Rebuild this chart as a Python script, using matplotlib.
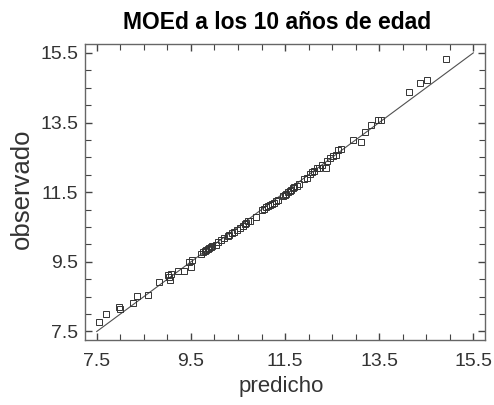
import numpy as np
import matplotlib
matplotlib.use("Agg")
import matplotlib.pyplot as plt
from matplotlib.ticker import MultipleLocator

# valores (predicho vs observado)
predicho = [7.55, 7.69, 7.97, 7.99, 8.28, 8.36, 8.59, 8.83, 9.02, 9.04,
            9.06, 9.08, 9.22, 9.36, 9.46, 9.50, 9.52, 9.72, 9.76, 9.80,
            9.83, 9.86, 9.88, 9.92, 9.95, 10.03, 10.08, 10.15, 10.20, 10.28,
            10.32, 10.38, 10.42, 10.47, 10.55, 10.60, 10.64, 10.68, 10.72, 10.75,
            10.88, 11.02, 11.06, 11.10, 11.14, 11.18, 11.22, 11.26, 11.30, 11.35,
            11.45, 11.50, 11.53, 11.56, 11.60, 11.63, 11.67, 11.70, 11.75, 11.80,
            11.90, 11.96, 12.02, 12.08, 12.12, 12.18, 12.22, 12.28, 12.37, 12.40,
            12.45, 12.52, 12.58, 12.63, 12.68, 12.94, 13.12, 13.19, 13.33, 13.48,
            13.53, 14.13, 14.36, 14.52, 14.91]
observado = [7.78, 8.01, 8.19, 8.15, 8.31, 8.51, 8.56, 8.92, 9.12, 9.06,
             8.98, 9.15, 9.25, 9.25, 9.49, 9.35, 9.55, 9.72, 9.78, 9.80,
             9.85, 9.88, 9.90, 9.93, 9.96, 9.99, 10.06, 10.12, 10.18, 10.24,
             10.28, 10.32, 10.36, 10.40, 10.48, 10.53, 10.58, 10.62, 10.66, 10.68,
             10.79, 10.98, 11.02, 11.06, 11.09, 11.13, 11.17, 11.20, 11.24, 11.28,
             11.38, 11.43, 11.46, 11.50, 11.54, 11.57, 11.61, 11.64, 11.68, 11.73,
             11.87, 11.92, 12.02, 12.08, 12.12, 12.18, 12.20, 12.28, 12.18, 12.40,
             12.48, 12.53, 12.58, 12.70, 12.74, 12.99, 12.95, 13.23, 13.44, 13.58,
             13.56, 14.38, 14.63, 14.73, 15.33]
linea = [7.5, 15.5]

plt.rcParams['font.family'] = ['Liberation Sans', 'DejaVu Sans']

fig = plt.figure(figsize=(4.94, 4.05), dpi=100)
ax = fig.add_axes([0.172, 0.160, 0.810, 0.731])

ax.plot(linea, linea, color='#505050', lw=0.8)
ax.plot(predicho, observado, linestyle='none', marker='s', ms=4.2,
        mfc='none', mec='#333333', mew=0.7)

ax.set_xlim(7.25, 15.75)
ax.set_ylim(7.25, 15.75)
ax.set_xticks([7.5, 9.5, 11.5, 13.5, 15.5])
ax.set_yticks([7.5, 9.5, 11.5, 13.5, 15.5])
ax.xaxis.set_minor_locator(MultipleLocator(0.5))
ax.yaxis.set_minor_locator(MultipleLocator(0.5))
ax.tick_params(which='both', direction='in', top=True, right=True,
               color='#444444', labelsize=14, labelcolor='#333333')
ax.tick_params(axis='x', which='both', pad=9)
ax.tick_params(axis='y', which='both', pad=5)
ax.tick_params(which='major', length=5, width=1)
ax.tick_params(which='minor', length=4, width=0.8)
for s in ax.spines.values():
    s.set_color('#666666')
    s.set_linewidth(1)

ax.set_title('MOEd a los 10 años de edad', fontsize=16.5, fontweight='bold',
             pad=11, x=0.48)
ax.set_xlabel('predicho', fontsize=16, color='#333333', va='center')
ax.set_ylabel('observado', fontsize=18.5, color='#333333', va='center')
ax.xaxis.set_label_coords(0.49, -0.155)
ax.yaxis.set_label_coords(-0.158, 0.51)

fig.savefig('out.png', dpi=100)
